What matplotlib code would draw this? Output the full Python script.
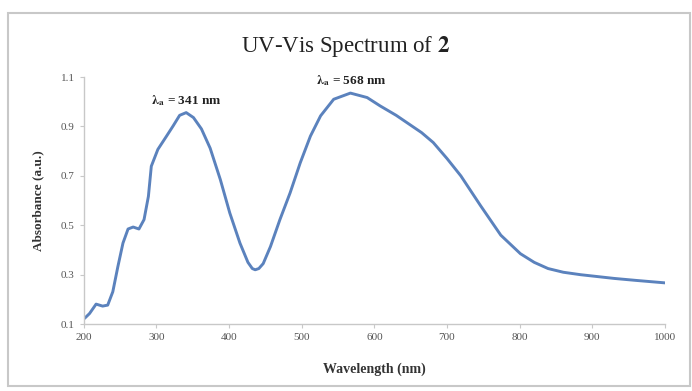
import numpy as np
import matplotlib
matplotlib.use("Agg")
import matplotlib.pyplot as plt
from matplotlib.patches import Rectangle

plt.rcParams.update({
    "font.family": "serif",
    "font.serif": ["Liberation Serif", "DejaVu Serif"],
    "mathtext.fontset": "stix",
})

# values
wavelength = [201, 208, 217, 226, 233, 240, 247, 254, 261, 268, 276, 283, 289, 293,
              302, 314, 323, 332, 341, 351, 362, 374, 388, 401, 415, 426, 432, 436, 441, 447,
              457, 470, 484, 498, 512, 526, 544, 567, 590, 608, 630, 650, 665, 681,
              700, 719, 746, 774, 801, 820, 839, 860, 884, 930, 960, 1000]
absorbance = [0.123, 0.143, 0.181, 0.173, 0.177, 0.231, 0.333, 0.428, 0.485, 0.493, 0.485, 0.523, 0.617, 0.739,
              0.807, 0.861, 0.902, 0.945, 0.956, 0.936, 0.89, 0.812, 0.685, 0.55, 0.428, 0.35, 0.325, 0.32, 0.325, 0.345,
              0.414, 0.523, 0.631, 0.753, 0.861, 0.943, 1.01, 1.035, 1.017, 0.983, 0.945, 0.905, 0.875, 0.835,
              0.77, 0.70, 0.58, 0.46, 0.385, 0.35, 0.325, 0.31, 0.30, 0.285, 0.277, 0.267]
peak_x = [341, 568]
peak_y = [0.956, 1.035]
peak_labels = [r"$\mathbf{\lambda_{a}}$ = 341 nm", r"$\mathbf{\lambda_{a}}$ = 568 nm"]
xticks = [200, 300, 400, 500, 600, 700, 800, 900, 1000]
yticks = [0.1, 0.3, 0.5, 0.7, 0.9, 1.1]

fig = plt.figure(figsize=(6.92, 3.91), dpi=100)
fig.patches.append(Rectangle((0.012, 0.012), 0.985, 0.955, transform=fig.transFigure,
                             fill=False, ec="#c8c8c8", lw=1.5))

ax = fig.add_axes([0.121, 0.171, 0.840, 0.632])
ax.plot(wavelength, absorbance, color="#5b82bd", lw=2.1,
        solid_capstyle="round", solid_joinstyle="round")
ax.set_xlim(200, 1000)
ax.set_ylim(0.1, 1.1)
ax.set_xticks(xticks)
ax.set_yticks(yticks)
ax.set_yticklabels([f"{v:g}" for v in yticks])
for s in ["top", "right"]:
    ax.spines[s].set_visible(False)
for s in ["left", "bottom"]:
    ax.spines[s].set_color("#c8c8c8")
    ax.spines[s].set_linewidth(1.0)
ax.tick_params(colors="#c8c8c8", labelcolor="#555555", labelsize=8, length=3, width=0.8)

ax.set_xlabel("Wavelength (nm)", fontsize=10, fontweight="bold", color="#333333", labelpad=15)
ax.set_ylabel("Absorbance (a.u.)", fontsize=9.5, fontweight="bold", color="#333333", labelpad=12)

fig.text(0.5, 0.882, r"UV-Vis Spectrum of $\mathbf{2}$", ha="center", va="center",
         fontsize=16.5, color="#222222")

offsets = [0.05, 0.05]
for px, py, lab, dy in zip(peak_x, peak_y, peak_labels, offsets):
    ax.text(px, py + dy, lab, ha="center", va="center", fontsize=9.5,
            fontweight="bold", color="#222222")

fig.savefig("out.png", dpi=100)
